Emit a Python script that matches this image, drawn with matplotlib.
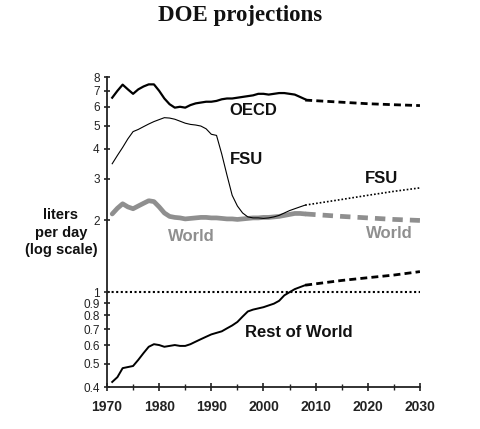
import matplotlib
matplotlib.use("Agg")
import matplotlib.pyplot as plt
from matplotlib.ticker import FixedLocator, FixedFormatter, MultipleLocator, NullLocator

plt.rcParams['font.family'] = ['Liberation Sans', 'DejaVu Sans']

hist_years = list(range(1971, 2009))
oecd = [6.55, 7.0, 7.43, 7.1, 6.8, 7.1, 7.3, 7.45, 7.45, 7.0, 6.5, 6.15, 5.95, 6.0, 5.95,
        6.1, 6.2, 6.25, 6.3, 6.3, 6.35, 6.45, 6.5, 6.5, 6.55, 6.6, 6.65, 6.7, 6.8, 6.8,
        6.75, 6.8, 6.85, 6.85, 6.8, 6.75, 6.6, 6.45]
fsu = [3.46, 3.75, 4.05, 4.4, 4.72, 4.82, 4.95, 5.08, 5.2, 5.3, 5.4, 5.38, 5.32, 5.22, 5.12,
       5.06, 5.03, 4.98, 4.85, 4.6, 4.55, 3.8, 3.1, 2.55, 2.3, 2.15, 2.07, 2.05, 2.05, 2.04,
       2.05, 2.07, 2.1, 2.15, 2.2, 2.24, 2.28, 2.32]
world = [2.13, 2.25, 2.35, 2.28, 2.24, 2.3, 2.36, 2.42, 2.4, 2.28, 2.15, 2.08, 2.06, 2.05, 2.03,
         2.04, 2.05, 2.06, 2.06, 2.05, 2.05, 2.04, 2.03, 2.03, 2.02, 2.03, 2.04, 2.05, 2.05, 2.06,
         2.06, 2.07, 2.08, 2.1, 2.12, 2.14, 2.14, 2.13]
row = [0.42, 0.44, 0.48, 0.485, 0.49, 0.52, 0.555, 0.59, 0.605, 0.6, 0.59, 0.595, 0.6, 0.595, 0.595,
       0.605, 0.62, 0.635, 0.65, 0.665, 0.675, 0.685, 0.705, 0.725, 0.75, 0.79, 0.83, 0.845, 0.855, 0.865,
       0.88, 0.895, 0.92, 0.97, 1.0, 1.03, 1.05, 1.07]

proj_years = [2008, 2015, 2020, 2025, 2030]
oecd_proj = [6.4, 6.27, 6.18, 6.12, 6.07]
fsu_proj = [2.32, 2.45, 2.55, 2.65, 2.74]
world_proj = [2.13, 2.08, 2.05, 2.02, 2.0]
row_proj = [1.07, 1.12, 1.15, 1.18, 1.22]

y_ticks = [0.4, 0.5, 0.6, 0.7, 0.8, 0.9, 1, 2, 3, 4, 5, 6, 7, 8]
y_labels = ['0.4', '0.5', '0.6', '0.7', '0.8', '0.9', '1', '2', '3', '4', '5', '6', '7', '8']
x_ticks = [1970, 1980, 1990, 2000, 2010, 2020, 2030]
ylabel_lines = ['liters', 'per day', '(log scale)']

gray = '#8f8f8f'

fig = plt.figure(figsize=(4.8, 4.29), dpi=100)
ax = fig.add_axes([0.2229, 0.0979, 0.652, 0.7226])
ax.set_yscale('log')
ax.set_xlim(1970, 2030)
ax.set_ylim(0.4, 8)

ax.axhline(1.0, color='black', lw=1.5, linestyle=(0, (1, 1.2)), zorder=1)

ax.plot(hist_years, world, color=gray, lw=3.4, solid_capstyle='round', zorder=2)
ax.plot(proj_years, world_proj, color=gray, lw=3.4, linestyle=(0, (2.2, 1.5)), zorder=2)

ax.plot(hist_years, oecd, color='black', lw=1.6, zorder=3)
ax.plot(proj_years, oecd_proj, color='black', lw=2.0, linestyle=(0, (2.5, 1.5)), zorder=3)

ax.plot(hist_years, fsu, color='black', lw=0.8, zorder=3)
ax.plot(proj_years, fsu_proj, color='black', lw=1.2, linestyle=(0, (1, 1.2)), zorder=3)

ax.plot(hist_years, row, color='black', lw=1.4, zorder=3)
ax.plot(proj_years, row_proj, color='black', lw=2.0, linestyle=(0, (2.5, 1.5)), zorder=3)

lab = dict(fontsize=12, fontweight='bold', ha='center', va='center')
ax.text(1998.1, 5.78, 'OECD', color='#111111', **lab)
ax.text(1996.8, 3.6, 'FSU', color='#111111', **lab)
ax.text(2022.6, 2.99, 'FSU', color='#111111', **lab)
ax.text(1986.1, 1.72, 'World', color=gray, **lab)
ax.text(2024.1, 1.76, 'World', color=gray, **lab)
ax.text(2006.7, 0.68, 'Rest of World', color='#111111', **lab)

for s in ['top', 'right']:
    ax.spines[s].set_visible(False)
for s in ['left', 'bottom']:
    ax.spines[s].set_linewidth(1.3)
    ax.spines[s].set_color('#222222')

ax.yaxis.set_major_locator(FixedLocator(y_ticks))
ax.yaxis.set_major_formatter(FixedFormatter(y_labels))
ax.yaxis.set_minor_locator(NullLocator())
ax.xaxis.set_major_locator(FixedLocator(x_ticks))
ax.xaxis.set_minor_locator(MultipleLocator(5))

ax.tick_params(axis='y', which='major', direction='inout', length=4.5, width=1.2,
               labelsize=8.5, pad=3, colors='#222222')
ax.tick_params(axis='x', which='major', direction='inout', length=6, width=1.2,
               labelsize=10, pad=6, colors='#222222')
ax.tick_params(axis='x', which='minor', direction='inout', length=4, width=1.0, colors='#222222')
for t in ax.get_xticklabels():
    t.set_fontweight('bold')

for i, line in enumerate(ylabel_lines):
    fig.text(61 / 480, 1 - (215 + 17.5 * i) / 429, line, ha='center', va='center',
             fontsize=10.5, fontweight='bold', color='#111111')

fig.text(240 / 480, 1 - 15 / 429, 'DOE projections', ha='center', va='center',
         fontsize=16.5, fontweight='bold', family=['Liberation Serif', 'DejaVu Serif'], color='#111111')

fig.savefig('out.png', dpi=100)
